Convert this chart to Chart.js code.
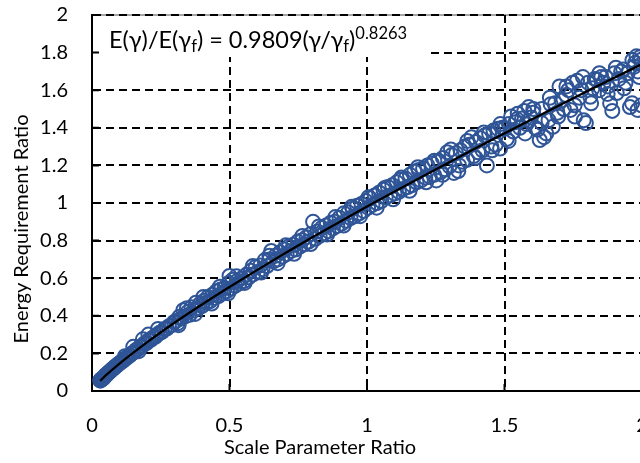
<!DOCTYPE html>
<html>
<head>
<meta charset="utf-8">
<script src="https://cdn.jsdelivr.net/npm/chart.js@4.4.0/dist/chart.umd.min.js"></script>
<style>
  html, body { margin: 0; padding: 0; background: #fff; overflow: hidden; }
  #wrap { width: 660px; height: 463px; }
</style>
</head>
<body>
<div id="wrap"><canvas id="chart" width="660" height="463"></canvas></div>
<script>
// scale parameter ratio (x) and energy requirement ratio (y)
const ratioX = [
  0.030,0.032,0.035,0.038,0.040,0.042,0.045,0.048,0.050,0.053,0.056,0.060,0.063,0.066,0.070,0.074,0.078,0.082,0.086,0.090,
  0.095,0.100,0.105,0.110,0.115,0.120,0.126,0.132,0.138,0.145,0.152,0.160,0.167,0.175,0.183,0.190,0.198,0.206,0.214,0.222,
  0.230,0.238,0.246,0.255,0.264,0.272,0.280,0.290,0.298,0.150,0.185,0.205,0.240,0.120,0.170,
  0.305,0.312,0.318,0.325,0.332,0.340,0.348,0.355,0.362,0.370,0.378,0.385,0.392,0.400,0.408,0.415,0.422,0.430,0.438,0.445,
  0.452,0.460,0.468,0.475,0.482,0.490,0.497,0.500,0.505,0.512,0.520,0.528,0.536,0.545,0.553,0.561,0.570,0.578,0.586,0.595,
  0.603,0.612,0.620,0.628,0.636,0.645,0.652,0.660,0.668,0.676,0.684,0.692,0.700,
  0.708,0.716,0.724,0.732,0.740,0.748,0.756,0.764,0.772,0.780,0.788,0.796,0.804,0.812,0.820,0.828,0.836,0.844,0.852,0.860,
  0.868,0.876,0.884,0.892,0.900,0.908,0.916,0.924,0.932,0.940,0.948,0.956,0.964,0.972,0.980,0.988,0.996,
  1.004,1.012,1.020,1.028,1.036,1.044,1.052,1.060,1.068,1.076,1.084,1.092,1.100,1.108,1.116,1.124,1.132,1.140,1.148,1.156,
  1.164,1.172,1.180,1.188,1.196,1.204,1.212,1.220,1.228,1.236,1.244,1.252,1.260,1.268,1.276,1.284,1.292,1.300,1.308,1.316,
  1.324,1.332,1.340,1.348,1.356,1.364,1.372,1.380,1.388,1.396,1.404,1.412,1.420,1.428,1.436,1.444,1.452,1.460,1.468,1.476,
  1.484,1.492,
  1.500,1.508,1.516,1.524,1.532,1.540,1.548,1.556,1.564,1.572,1.580,1.588,1.596,1.604,1.612,1.620,1.628,1.636,1.644,1.652,
  1.660,1.668,1.676,1.684,1.692,1.700,1.708,1.716,1.724,1.732,1.740,1.748,1.756,1.764,1.772,1.780,1.788,1.796,1.804,1.812,
  1.820,1.828,1.836,1.844,1.852,1.860,1.868,1.876,1.884,1.892,1.900,1.908,1.916,1.924,1.932,1.940,1.948,1.956,1.964,1.972,
  1.980,1.984,1.990,1.996,2.000,
  0.315,0.345,0.375,0.405,0.435,0.465,0.495,0.525,0.555,0.585,0.615,0.645,0.675,0.705,0.735,0.765,0.795,0.825,0.855,0.885,
  0.915,0.945,0.975,1.005,1.035,1.065,1.095,1.125,1.155,1.185,1.215,1.245,1.275,1.305,1.335,1.365,1.395,1.425,1.455,1.485,
  1.515,1.545,1.575,1.605,1.635,1.665,1.695,1.725,1.755,1.785,1.815,1.845,1.875,1.905,1.935,1.965,1.992,1.975,1.985,1.998
];
const ratioY = [
  0.055,0.060,0.062,0.064,0.070,0.068,0.075,0.080,0.085,0.086,0.092,0.098,0.100,0.106,0.110,0.116,0.121,0.125,0.132,0.135,
  0.142,0.148,0.152,0.160,0.163,0.172,0.176,0.186,0.190,0.200,0.205,0.218,0.222,0.236,0.240,0.252,0.255,0.270,0.272,0.285,
  0.288,0.300,0.310,0.314,0.330,0.332,0.345,0.350,0.366,0.235,0.275,0.300,0.330,0.185,0.212,
  0.372,0.360,0.395,0.385,0.430,0.398,0.420,0.405,0.445,0.428,0.470,0.440,0.462,0.452,0.480,0.470,0.500,0.478,0.512,0.495,
  0.530,0.505,0.540,0.520,0.548,0.530,0.575,0.612,0.545,0.592,0.560,0.585,0.572,0.600,0.585,0.618,0.605,0.640,0.620,0.660,
  0.632,0.668,0.648,0.695,0.665,0.700,0.745,0.690,0.720,0.700,0.738,0.715,0.752,
  0.728,0.770,0.745,0.778,0.752,0.795,0.768,0.802,0.780,0.818,0.795,0.835,0.900,0.810,0.848,0.825,0.868,0.838,0.880,0.850,
  0.895,0.865,0.900,0.878,0.922,0.890,0.945,0.905,0.950,0.920,0.970,0.930,0.985,0.945,0.995,0.958,1.010,
  0.975,1.025,0.990,1.040,1.000,1.055,1.010,1.070,1.030,1.085,1.040,1.095,1.050,1.110,1.060,1.125,1.075,1.130,1.085,1.150,
  1.095,1.168,1.110,1.175,1.120,1.185,1.135,1.200,1.140,1.210,1.150,1.120,1.225,1.165,1.240,1.180,1.270,1.195,1.255,1.160,
  1.265,1.170,1.280,1.220,1.300,1.230,1.310,1.350,1.250,1.325,1.270,1.345,1.280,1.360,1.200,1.370,1.300,1.385,1.310,1.395,
  1.290,1.400,
  1.395,1.340,1.420,1.460,1.380,1.430,1.475,1.400,1.450,1.490,1.420,1.510,1.455,1.480,1.400,1.390,1.335,1.500,1.350,1.370,
  1.440,1.525,1.405,1.530,1.480,1.620,1.545,1.500,1.575,1.600,1.495,1.640,1.460,1.650,1.560,1.600,1.440,1.425,1.640,1.565,
  1.610,1.660,1.655,1.600,1.670,1.640,1.670,1.620,1.530,1.490,1.690,1.585,1.660,1.700,1.710,1.640,1.690,1.510,1.530,1.725,
  1.780,1.495,1.670,1.760,1.740,
  0.350,0.440,0.410,0.500,0.465,0.555,0.520,0.610,0.575,0.665,0.630,0.720,0.680,0.775,0.730,0.825,0.782,0.875,0.832,0.925,
  0.880,0.980,0.930,1.030,0.975,1.080,1.020,1.135,1.065,1.190,1.110,1.225,1.150,1.285,1.200,1.330,1.240,1.375,1.280,1.420,
  1.330,1.445,1.370,1.500,1.425,1.560,1.460,1.620,1.520,1.670,1.530,1.690,1.580,1.720,1.610,1.760,1.775,1.745,1.700,1.520
];
// trend line E(g)/E(gf) = 0.9809 (g/gf)^0.8263
const fitX = [0.03, 0.05, 0.1, 0.2, 0.3, 0.4, 0.5, 0.6, 0.7, 0.8, 0.9, 1.0, 1.2, 1.4, 1.6, 1.8, 2.0];
const fitY = [0.054, 0.083, 0.146, 0.259, 0.363, 0.460, 0.553, 0.643, 0.731, 0.816, 0.899, 0.981, 1.140, 1.295, 1.446, 1.594, 1.739];
const xTicks = [0, 0.5, 1, 1.5, 2];
const yTicks = [0, 0.2, 0.4, 0.6, 0.8, 1, 1.2, 1.4, 1.6, 1.8, 2];

const FONT = 'Lato, "Liberation Sans", sans-serif';
const BLUE = '#2f5597';

const decor = {
  id: 'decor',
  beforeDraw(chart) {
    const {ctx, chartArea: a} = chart;
    ctx.save();
    ctx.strokeStyle = '#a6a6a6';
    ctx.lineWidth = 2;
    ctx.beginPath();
    ctx.moveTo(a.left, a.top);
    ctx.lineTo(a.right, a.top);
    ctx.stroke();
    ctx.restore();
  },
  afterDraw(chart) {
    const {ctx, chartArea: a, scales} = chart;
    ctx.save();
    // label box over the top-left corner
    ctx.fillStyle = '#fff';
    ctx.fillRect(a.left + 1, a.top + 1, 333, 41);

    // short inside tick marks
    ctx.strokeStyle = '#000';
    ctx.lineWidth = 2;
    ctx.beginPath();
    yTicks.forEach(v => {
      const y = scales.y.getPixelForValue(v);
      ctx.moveTo(a.left, y);
      ctx.lineTo(a.left + 7, y);
    });
    xTicks.forEach(v => {
      const x = scales.x.getPixelForValue(v);
      ctx.moveTo(x, a.bottom);
      ctx.lineTo(x, a.bottom - 7);
    });
    ctx.stroke();

    // equation
    ctx.fillStyle = '#000';
    ctx.textAlign = 'left';
    ctx.textBaseline = 'alphabetic';
    const big = '23.5px ' + FONT, small = '16.5px ' + FONT;
    const parts = [
      ['E(γ)/E(γ', big, 0], ['f', small, 4], [') = 0.9809(γ/γ', big, 0], ['f', small, 4], [')', big, 0], ['0.8263', small, -9]
    ];
    let x = 109;
    parts.forEach(([t, f, dy]) => {
      ctx.font = f;
      ctx.fillText(t, x, 48 + dy);
      x += ctx.measureText(t).width;
    });

    // axis titles
    ctx.font = '20px ' + FONT;
    ctx.textAlign = 'center';
    ctx.textBaseline = 'middle';
    ctx.fillText('Scale Parameter Ratio', 320, 448);
    ctx.translate(22, 229);
    ctx.rotate(-Math.PI / 2);
    ctx.fillText('Energy Requirement Ratio', 0, 0);
    ctx.restore();
  }
};

const fmt = v => String(Number(v.toFixed(1)));

new Chart(document.getElementById('chart'), {
  type: 'scatter',
  data: {
    datasets: [{
      type: 'line',
      data: fitX.map((x, i) => ({x, y: fitY[i]})),
      borderColor: '#000',
      borderWidth: 2.25,
      pointRadius: 0,
      cubicInterpolationMode: 'monotone',
      fill: false,
      order: 0
    }, {
      data: ratioX.map((x, i) => ({x, y: ratioY[i]})),
      borderColor: BLUE,
      backgroundColor: 'rgba(0,0,0,0)',
      borderWidth: 2,
      pointRadius: 7,
      order: 1
    }]
  },
  options: {
    responsive: false,
    animation: false,
    layout: { padding: { top: 15, right: 18, left: 0, bottom: 0 } },
    plugins: { legend: { display: false }, tooltip: { enabled: false } },
    scales: {
      x: {
        type: 'linear',
        min: 0, max: 2,
        afterFit: s => { s.height = 72; s.paddingLeft = 0; s.paddingRight = 0; },
        afterBuildTicks: s => { s.ticks = xTicks.map(v => ({value: v})); },
        ticks: { padding: 23, color: '#000', font: { family: FONT, size: 20 }, callback: fmt, maxRotation: 0 },
        grid: { color: '#000', lineWidth: 2, drawTicks: false },
        border: { color: '#000', width: 2, dash: [8, 5] }
      },
      y: {
        min: 0, max: 2,
        afterFit: s => { s.width = 92; s.paddingTop = 0; s.paddingBottom = 0; },
        afterBuildTicks: s => { s.ticks = yTicks.map(v => ({value: v})); },
        ticks: { padding: 24, color: '#000', font: { family: FONT, size: 20 }, callback: fmt },
        grid: { color: '#000', lineWidth: 2, drawTicks: false },
        border: { color: '#000', width: 2, dash: [8, 5] }
      }
    }
  },
  plugins: [decor]
});
</script>
</body>
</html>
